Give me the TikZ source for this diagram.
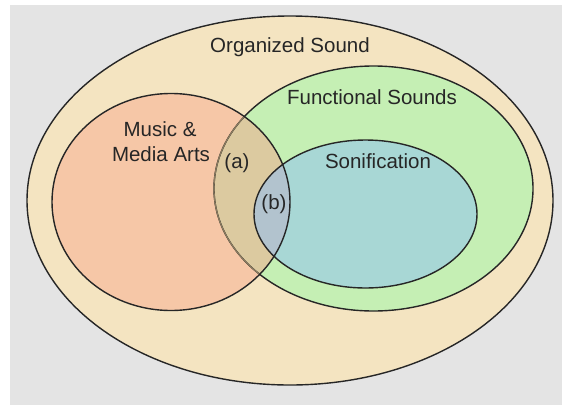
\documentclass[tikz,border=0pt]{standalone}
\usepackage{fontspec}
\setmainfont{Liberation Sans}
\begin{document}
\begin{tikzpicture}[x=1pt,y=-1pt,
  outline/.style={draw=black!85,line width=1.4pt},
  lbl/.style={font=\fontsize{20.5}{25}\selectfont,text=black!85,align=center,inner sep=0pt,anchor=base}]
\definecolor{bg}{HTML}{E4E4E4}
\definecolor{beige}{HTML}{F4E4C1}
\definecolor{salmon}{HTML}{F6C7A7}
\definecolor{green}{HTML}{C5EFB4}
\definecolor{teal}{HTML}{A8D7D5}
\definecolor{tan}{HTML}{DCCAA0}
\definecolor{blgray}{HTML}{B2C3CE}
\definecolor{softline}{HTML}{8C7C60}
\useasboundingbox (0,0) rectangle (562,405);
\fill[bg] (10,5) rectangle (562,405);
% fills
\fill[beige] (290,200.5) ellipse [x radius=263, y radius=184.5];
\fill[green] (373.5,188.5) ellipse [x radius=159.5, y radius=122.5];
\fill[teal] (365.5,214) ellipse [x radius=111.5, y radius=74];
\fill[salmon] (171,202) ellipse [x radius=119, y radius=108.5];
\begin{scope}
  \clip (171,202) ellipse [x radius=119, y radius=108.5];
  \fill[tan] (373.5,188.5) ellipse [x radius=159.5, y radius=122.5];
  \fill[blgray] (365.5,214) ellipse [x radius=111.5, y radius=74];
\end{scope}
% outlines
\draw[outline] (290,200.5) ellipse [x radius=263, y radius=184.5];
\draw[outline] (373.5,188.5) ellipse [x radius=159.5, y radius=122.5];
\begin{scope}
  \clip (171,202) ellipse [x radius=119, y radius=108.5];
  \draw[outline,draw=softline,line width=1.2pt] (373.5,188.5) ellipse [x radius=159.5, y radius=122.5];
\end{scope}
\draw[outline] (365.5,214) ellipse [x radius=111.5, y radius=74];
\draw[outline] (171,202) ellipse [x radius=119, y radius=108.5];
% labels
\node[lbl] (torg) at (290,52) {Organized Sound};
\node[lbl] (tfun) at (372,104) {Functional Sounds};
\node[lbl] (tmus1) at (160,136) {Music \&};
\node[lbl] (tmus2) at (161,161) {Media Arts};
\node[lbl] (ta) at (237,168) {(a)};
\node[lbl] (tb) at (274,209) {(b)};
\node[lbl] (tson) at (378,168) {Sonification};
\end{tikzpicture}
\end{document}
